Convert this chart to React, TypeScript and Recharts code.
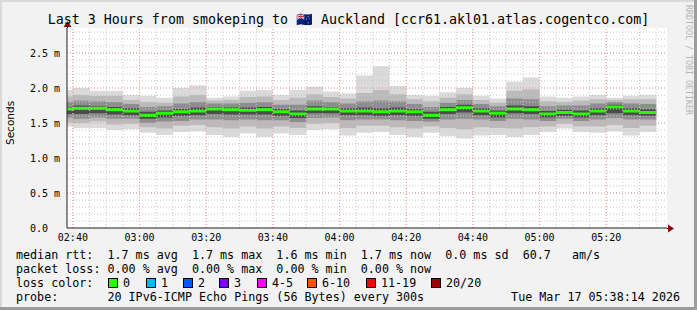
import React from 'react'
import { ComposedChart, Area, XAxis, YAxis, CartesianGrid, ReferenceLine } from 'recharts'

// 5 minute slots, start time in minutes after midnight (02:35 .. 05:30)
const slotStart = [
  155, 160, 165, 170, 175, 180, 185, 190, 195, 200, 205, 210,
  215, 220, 225, 230, 235, 240, 245, 250, 255, 260, 265, 270,
  275, 280, 285, 290, 295, 300, 305, 310, 315, 320, 325, 330,
]
const lastSlotEnd = 335

// round trip times in ms
const median = [
  1.70, 1.71, 1.71, 1.69, 1.67, 1.61, 1.64, 1.66, 1.67, 1.70, 1.69, 1.68,
  1.69, 1.66, 1.63, 1.70, 1.70, 1.67, 1.67, 1.66, 1.67, 1.66, 1.61, 1.69,
  1.72, 1.67, 1.64, 1.70, 1.69, 1.63, 1.65, 1.63, 1.67, 1.73, 1.67, 1.65,
]
const pingMin = [
  1.45, 1.43, 1.43, 1.40, 1.41, 1.36, 1.33, 1.37, 1.38, 1.33, 1.30, 1.35,
  1.30, 1.35, 1.33, 1.40, 1.41, 1.32, 1.36, 1.37, 1.33, 1.30, 1.36, 1.31,
  1.28, 1.32, 1.33, 1.30, 1.33, 1.37, 1.42, 1.37, 1.36, 1.38, 1.32, 1.37,
]
const pingMax = [
  1.97, 2.00, 1.96, 1.96, 1.90, 1.89, 1.86, 2.00, 2.04, 1.86, 1.88, 1.96,
  1.97, 1.90, 1.97, 2.02, 1.95, 1.92, 2.18, 2.31, 2.03, 1.90, 1.89, 1.94,
  2.00, 1.89, 1.85, 2.09, 2.15, 1.88, 1.86, 1.88, 1.90, 1.86, 1.89, 1.90,
]
const p15 = [
  1.51, 1.50, 1.52, 1.48, 1.49, 1.44, 1.42, 1.46, 1.47, 1.44, 1.42, 1.45,
  1.42, 1.45, 1.43, 1.49, 1.50, 1.43, 1.46, 1.46, 1.44, 1.42, 1.45, 1.43,
  1.41, 1.44, 1.43, 1.42, 1.44, 1.45, 1.49, 1.45, 1.45, 1.47, 1.43, 1.46,
]
const p85 = [
  1.88, 1.90, 1.89, 1.89, 1.83, 1.80, 1.79, 1.88, 1.90, 1.82, 1.83, 1.87,
  1.88, 1.83, 1.86, 1.91, 1.87, 1.85, 1.93, 1.97, 1.91, 1.84, 1.81, 1.86,
  1.91, 1.83, 1.79, 1.96, 1.98, 1.81, 1.80, 1.82, 1.84, 1.83, 1.84, 1.84,
]
const p30 = [
  1.58, 1.56, 1.58, 1.56, 1.56, 1.50, 1.52, 1.53, 1.55, 1.55, 1.54, 1.55,
  1.54, 1.54, 1.51, 1.57, 1.58, 1.54, 1.55, 1.55, 1.54, 1.53, 1.52, 1.55,
  1.56, 1.55, 1.53, 1.56, 1.55, 1.53, 1.56, 1.53, 1.55, 1.57, 1.55, 1.55,
]
const p70 = [
  1.80, 1.82, 1.81, 1.80, 1.77, 1.73, 1.74, 1.78, 1.80, 1.78, 1.78, 1.79,
  1.80, 1.76, 1.76, 1.82, 1.80, 1.78, 1.81, 1.82, 1.81, 1.77, 1.73, 1.79,
  1.83, 1.77, 1.74, 1.85, 1.84, 1.74, 1.75, 1.75, 1.78, 1.80, 1.78, 1.77,
]
const coreLow = [
  1.63, 1.63, 1.64, 1.62, 1.61, 1.56, 1.58, 1.60, 1.61, 1.63, 1.62, 1.62,
  1.62, 1.60, 1.57, 1.64, 1.64, 1.61, 1.61, 1.60, 1.61, 1.60, 1.56, 1.63,
  1.65, 1.61, 1.58, 1.64, 1.63, 1.58, 1.60, 1.58, 1.61, 1.64, 1.61, 1.60,
]
const coreHigh = [
  1.73, 1.75, 1.74, 1.73, 1.71, 1.66, 1.68, 1.70, 1.72, 1.73, 1.72, 1.72,
  1.73, 1.70, 1.68, 1.74, 1.73, 1.71, 1.72, 1.71, 1.72, 1.70, 1.66, 1.73,
  1.76, 1.71, 1.68, 1.75, 1.74, 1.67, 1.69, 1.68, 1.71, 1.76, 1.71, 1.70,
]

const timeTicks = [160, 180, 200, 220, 240, 260, 280, 300, 320]
const rttTicks = [0, 0.5, 1.0, 1.5, 2.0, 2.5]

const lossLabels = ['0', '1', '2', '3', '4-5', '6-10', '11-19', '20/20']
const lossColors = ['#26ff00', '#00b8ff', '#0059ff', '#7e00ff', '#ff00ff', '#ff5500', '#ff0000', '#a10000']
const lossBoxX = [108, 146, 183, 219, 257, 307, 366, 431]

const MONO = '"DejaVu Sans Mono", monospace'
const START = 158 + 14 / 60 // 02:38:14
const END = START + 180

const minorX = Array.from({ length: 36 }, (_, i) => 160 + i * 5)
const minorY = Array.from({ length: 28 }, (_, i) => Math.round((i + 1) * 10) / 100)

const rows: any[] = slotStart.map((t, i) => ({
  t,
  outer: [pingMin[i], pingMax[i]],
  mid: [p15[i], p85[i]],
  inner: [p30[i], p70[i]],
  core: [coreLow[i], coreHigh[i]],
  med: [median[i] - 0.021, median[i] + 0.021],
}))
rows.push({ ...rows[rows.length - 1], t: lastSlotEnd })

const hhmm = (m: number) => {
  const h = Math.floor(m / 60)
  const mm = Math.round(m % 60)
  return String(h).padStart(2, '0') + ':' + String(mm).padStart(2, '0')
}

const legendText: React.CSSProperties = {
  position: 'absolute',
  left: 16,
  fontFamily: MONO,
  fontSize: 11.7,
  lineHeight: '14px',
  whiteSpace: 'pre',
  color: '#000',
}

export default function App() {
  return (
    <div style={{ position: 'fixed', left: 0, top: 0, width: 697, height: 310, background: '#f2f2f2', overflow: 'hidden' }}>
      <ComposedChart
        width={697}
        height={310}
        data={rows}
        margin={{ top: 28, right: 30, bottom: 52, left: 27 }}
        style={{ position: 'absolute', left: 0, top: 0 }}
      >
        <CartesianGrid horizontal={false} vertical={false} fill="#ffffff" />
        <XAxis
          dataKey="t"
          type="number"
          domain={[START, END]}
          allowDataOverflow
          ticks={timeTicks}
          tickFormatter={hhmm}
          height={30}
          tickSize={3}
          tickMargin={3}
          tickLine={false}
          axisLine={{ stroke: '#202020' }}
          tick={{ fontFamily: MONO, fontSize: 10, fill: '#000' }}
        />
        <YAxis
          type="number"
          domain={[0, 200 / 70]}
          allowDataOverflow
          ticks={rttTicks}
          tickFormatter={(v: number) => (v === 0 ? '0.0\u00a0\u00a0' : v.toFixed(1) + ' m')}
          width={40}
          tickSize={3}
          tickMargin={4}
          tickLine={false}
          axisLine={{ stroke: '#202020' }}
          tick={{ fontFamily: MONO, fontSize: 10, fill: '#000' }}
        />
        <Area type="stepAfter" dataKey="outer" stroke="none" fill="#dadada" fillOpacity={1} isAnimationActive={false} dot={false} activeDot={false} />
        <Area type="stepAfter" dataKey="mid" stroke="none" fill="#bababa" fillOpacity={1} isAnimationActive={false} dot={false} activeDot={false} />
        <Area type="stepAfter" dataKey="inner" stroke="none" fill="#8e8e8e" fillOpacity={1} isAnimationActive={false} dot={false} activeDot={false} />
        <Area type="stepAfter" dataKey="core" stroke="none" fill="#4c4c4c" fillOpacity={1} isAnimationActive={false} dot={false} activeDot={false} />
        <Area type="stepAfter" dataKey="med" stroke="none" fill="#26ff00" fillOpacity={1} isAnimationActive={false} dot={false} activeDot={false} />
        {minorX.map(v => (
          <ReferenceLine key={'mx' + v} x={v} stroke="#c8c8c8" strokeDasharray="1 2" />
        ))}
        {minorY.map(v => (
          <ReferenceLine key={'my' + v} y={v} stroke="#c8c8c8" strokeDasharray="1 2" />
        ))}
        {timeTicks.map(v => (
          <ReferenceLine key={'Mx' + v} x={v} stroke="#eaa0a0" strokeDasharray="1 2" />
        ))}
        {rttTicks.filter(v => v > 0).map(v => (
          <ReferenceLine key={'My' + v} y={v} stroke="#eaa0a0" strokeDasharray="1 2" />
        ))}
      </ComposedChart>

      <svg width={697} height={310} style={{ position: 'absolute', left: 0, top: 0, pointerEvents: 'none' }}>
        <line x1={667} y1={228.5} x2={670} y2={228.5} stroke="#202020" />
        <polygon points="668,224.5 674,228.5 668,232.5" fill="#801010" />
        <line x1={67.5} y1={28} x2={67.5} y2={25} stroke="#202020" />
        <polygon points="63.5,27 67.5,21 71.5,27" fill="#801010" />
      </svg>

      <div style={{ position: 'absolute', left: 0, top: 12, width: 697, textAlign: 'center', fontFamily: MONO, fontSize: 13.3, lineHeight: '16px', whiteSpace: 'pre', color: '#000' }}>
        Last 3 Hours from smokeping to 🇳🇿 Auckland [ccr61.akl01.atlas.cogentco.com]
      </div>

      <div style={{ position: 'absolute', left: 4, top: 100, height: 46, width: 13, writingMode: 'vertical-rl', transform: 'rotate(180deg)', fontFamily: '"DejaVu Sans", sans-serif', fontSize: 10.5, lineHeight: '13px', textAlign: 'center', color: '#000' }}>
        Seconds
      </div>

      <div style={{ position: 'absolute', left: 684, top: 5, writingMode: 'vertical-rl', fontFamily: MONO, fontSize: 8.3, lineHeight: '9px', color: '#b4b4b4', whiteSpace: 'pre' }}>
        RRDTOOL / TOBI OETIKER
      </div>

      <div style={{ ...legendText, top: 247.5 }}>
        {'median rtt:  1.7 ms avg  1.7 ms max  1.6 ms min  1.7 ms now  0.0 ms sd  60.7   am/s'}
      </div>
      <div style={{ ...legendText, top: 261.5 }}>
        {'packet loss: 0.00 % avg  0.00 % max  0.00 % min  0.00 % now'}
      </div>
      <div style={{ ...legendText, top: 275.5 }}>{'loss color:'}</div>
      {lossLabels.map((lab, i) => (
        <React.Fragment key={lab}>
          <div style={{ position: 'absolute', left: lossBoxX[i], top: 278, width: 8, height: 8, background: lossColors[i], border: '1px solid #000' }} />
          <div style={{ ...legendText, left: lossBoxX[i] + 15, top: 275.5 }}>{lab}</div>
        </React.Fragment>
      ))}
      <div style={{ ...legendText, top: 289.5 }}>
        {'probe:       20 IPv6-ICMP Echo Pings (56 Bytes) every 300s'}
      </div>
      <div style={{ ...legendText, left: 'auto', right: 17, top: 289.5 }}>
        {'Tue Mar 17 05:38:14 2026'}
      </div>

      <div style={{ position: 'absolute', left: 0, top: 0, width: 697, height: 2, background: '#dadada' }} />
      <div style={{ position: 'absolute', left: 0, top: 0, width: 2, height: 310, background: '#dadada' }} />
      <div style={{ position: 'absolute', left: 694, top: 0, width: 3, height: 310, background: '#9c9c9c' }} />
      <div style={{ position: 'absolute', left: 0, top: 307, width: 697, height: 3, background: '#9c9c9c' }} />
    </div>
  )
}
